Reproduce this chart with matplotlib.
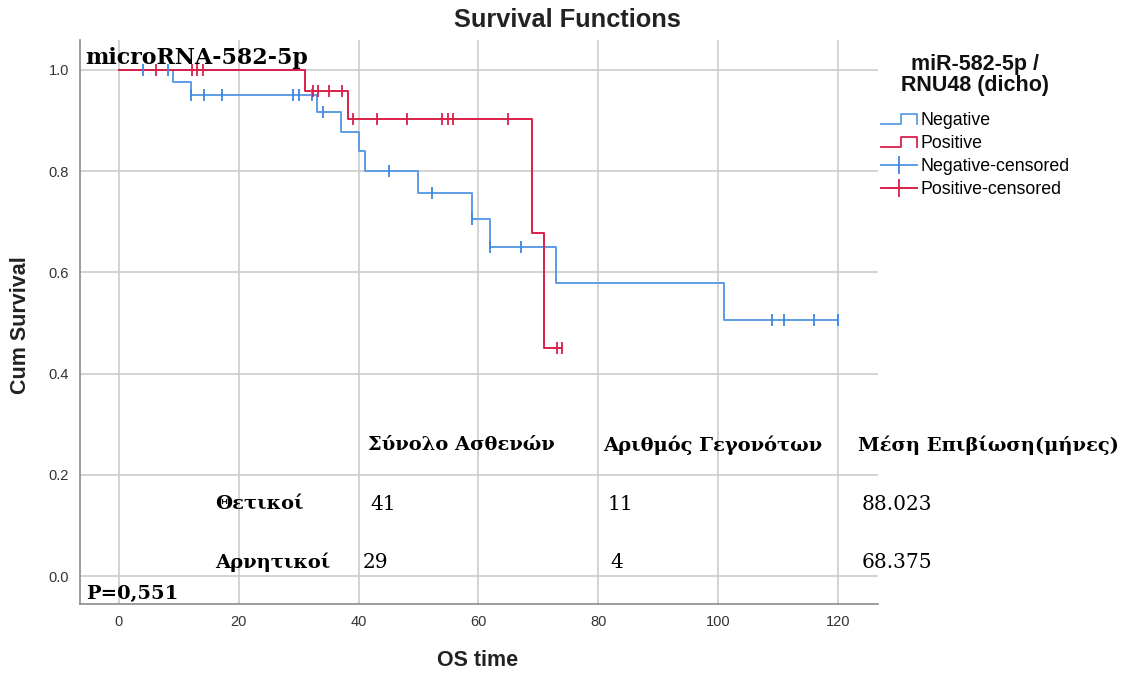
import numpy as np
import matplotlib
matplotlib.use('Agg')
from matplotlib import pyplot as plt  # noqa
from matplotlib.lines import Line2D
from matplotlib.legend_handler import HandlerBase

W, H = 1124, 673

# Kaplan-Meier steps (time, survival)
neg_times = [0, 9, 12, 33, 37, 40, 41, 50, 59, 62, 73, 101]
neg_surv = [1.0, 0.976, 0.951, 0.917, 0.878, 0.839, 0.800, 0.756, 0.706, 0.651, 0.579, 0.506]
neg_end = 120
neg_censored = [4, 8.2, 12, 14.2, 17.2, 29, 30, 32.2, 34, 45, 52.2, 59, 62, 67.1,
                109, 111, 116, 120]

pos_times = [0, 31, 38.2, 69, 71]
pos_surv = [1.0, 0.958, 0.903, 0.677, 0.451]
pos_end = 74
pos_censored = [6.2, 12.2, 13, 14, 32.4, 33.2, 35, 37.2, 39, 43, 48, 54, 55, 55.8,
                65, 73.1, 74]

x_ticks = [0, 20, 40, 60, 80, 100, 120]
y_ticks = [0.0, 0.2, 0.4, 0.6, 0.8, 1.0]

table_header = ['Σύνολο Ασθενών', 'Αριθμός Γεγονότων', 'Μέση Επιβίωση(μήνες)']
table_rows = ['Θετικοί', 'Αρνητικοί']
table_values = [['41', '11', '88.023'], ['29', '4', '68.375']]

BLUE = '#5c9de6'
BLUE_DARK = '#3f86de'
RED = '#d9204a'
GRID = '#cccccc'
SERIF = ['DejaVu Serif']
SANS = ['Liberation Sans', 'DejaVu Sans']


def px(x, y):
    return x / W, 1 - y / H


def surv_at(times, surv, t):
    i = np.searchsorted(times, t, side='right') - 1
    return np.array(surv)[i]


class StepHandler(HandlerBase):
    def create_artists(self, legend, orig_handle, xdescent, ydescent,
                       width, height, fontsize, trans):
        lo = height * 0.1 - ydescent
        hi = height * 0.95 - ydescent
        xs = np.array([0, 0.55, 0.55, 1.0, 1.0]) * width - xdescent
        ys = [lo, lo, hi, hi, lo]
        ln = Line2D(xs, ys, color=orig_handle.get_color(), lw=1.3,
                    transform=trans)
        return [ln]


fig = plt.figure(figsize=(W / 100, H / 100), dpi=100)
l, b = px(80, 604)
r, t = px(878, 40)
ax = fig.add_axes([l, b, r - l, t - b])

ax.set_xlim(-6.5, 126.7)
ax.set_ylim(-0.055, 1.059)
ax.set_xticks(x_ticks)
ax.set_yticks(y_ticks)
ax.set_yticklabels(['%.1f' % v for v in y_ticks])
ax.grid(True, color=GRID, lw=1.2)
ax.set_axisbelow(True)
for s in ['top', 'right']:
    ax.spines[s].set_visible(False)
for s in ['left', 'bottom']:
    ax.spines[s].set_color('#8a8a8a')
    ax.spines[s].set_linewidth(1.2)
ax.tick_params(length=0, labelsize=10.5, labelcolor='#333333', pad=8)
for lab in ax.get_xticklabels() + ax.get_yticklabels():
    lab.set_family(SANS)

neg_line, = ax.step(neg_times + [neg_end], neg_surv + [neg_surv[-1]],
                    where='post', color=BLUE, lw=1.4)
pos_line, = ax.step(pos_times + [pos_end], pos_surv + [pos_surv[-1]],
                    where='post', color=RED, lw=1.4)
neg_c, = ax.plot(neg_censored, surv_at(neg_times, neg_surv, neg_censored),
                 ls='none', marker='|', ms=8.5, mew=1.3, color=BLUE_DARK)
pos_c, = ax.plot(pos_censored, surv_at(pos_times, pos_surv, pos_censored),
                 ls='none', marker='|', ms=8.5, mew=1.3, color=RED)

fig.text(*px(567, 20), 'Survival Functions', ha='center', va='center',
         fontsize=18.3, family=SANS, fontweight='bold', color='#222222')
fig.text(*px(478, 661), 'OS time', ha='center', va='center',
         fontsize=15.5, family=SANS, fontweight='bold', color='#222222')
fig.text(*px(20, 325), 'Cum Survival', ha='center', va='center',
         rotation=90, fontsize=15.5, family=SANS, fontweight='bold', color='#222222')

neg_h = Line2D([], [], color=BLUE, lw=1.4)
pos_h = Line2D([], [], color=RED, lw=1.4)
neg_ch = Line2D([], [], color=BLUE, lw=1.4, marker='|', ms=13, mew=1.3,
                markeredgecolor=BLUE_DARK)
pos_ch = Line2D([], [], color=RED, lw=1.4, marker='|', ms=13, mew=1.3)
leg = fig.legend([neg_h, pos_h, neg_ch, pos_ch],
                 ['Negative', 'Positive', 'Negative-censored', 'Positive-censored'],
                 handler_map={neg_h: StepHandler(), pos_h: StepHandler()},
                 title='miR-582-5p /\nRNU48 (dicho)', loc='upper left',
                 bbox_to_anchor=px(869, 42), frameon=False, numpoints=1,
                 handlelength=2.0, handletextpad=0.2, labelspacing=0.336,
                 alignment='center', borderpad=0.2,
                 prop={'family': SANS, 'size': 12.75})
title = leg.get_title()
title.set_fontweight('bold')
title.set_fontsize(15.5)
title.set_family(SANS)
title.set_multialignment('center')
title.set_linespacing(1.0)
title.set_color('#111111')
leg._legend_box.sep = 11.5

fig.text(*px(85, 58), 'microRNA-582-5p', ha='left', va='center',
         fontsize=15.9, family=SERIF, fontweight='bold')
fig.text(*px(86, 594), 'P=0,551', ha='left', va='center',
         fontsize=14, family=SERIF, fontweight='bold')

head_x = [368, 603, 858]
for hx, txt in zip(head_x, table_header):
    fig.text(*px(hx, 445), txt, ha='left', va='center', fontsize=14.0,
             family=SERIF, fontweight='bold')
row_y = [504, 562]
val_x = [[370, 607, 862], [363, 610, 862]]
for ry, name, vals, vx in zip(row_y, table_rows, table_values, val_x):
    fig.text(*px(215, ry), name, ha='left', va='center', fontsize=14.0,
             family=SERIF, fontweight='bold')
    for x, v in zip(vx, vals):
        fig.text(*px(x, ry), v, ha='left', va='center', fontsize=14.5,
                 family=SERIF)

fig.savefig('out.png', dpi=100)
